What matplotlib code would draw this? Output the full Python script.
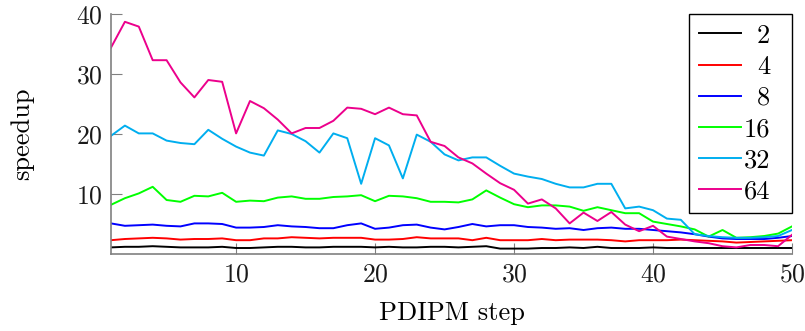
import matplotlib
matplotlib.use("Agg")
import matplotlib.pyplot as plt
import numpy as np

plt.rcParams['font.family'] = 'serif'
plt.rcParams['font.serif'] = ['cmr10', 'DejaVu Serif']
plt.rcParams['mathtext.fontset'] = 'cm'
plt.rcParams['axes.formatter.use_mathtext'] = True

steps = list(range(1, 51))
labels = ["2", "4", "8", "16", "32", "64"]
colors = ["#000000", "#ff0000", "#0000ff", "#00ff00", "#00aeef", "#ec008c"]

s2 = [1.1, 1.2, 1.2, 1.3, 1.2, 1.1, 1.1, 1.1, 1.2, 1.0,
      1.0, 1.1, 1.2, 1.2, 1.1, 1.1, 1.2, 1.2, 1.2, 1.1,
      1.2, 1.1, 1.1, 1.2, 1.2, 1.1, 1.2, 1.3, 0.9, 0.9,
      0.9, 1.0, 1.0, 1.1, 1.0, 1.2, 1.0, 1.0, 1.0, 1.1,
      1.0, 1.0, 1.0, 1.0, 1.0, 1.0, 1.0, 1.0, 1.0, 1.0]
s4 = [2.3, 2.5, 2.6, 2.7, 2.6, 2.4, 2.5, 2.5, 2.6, 2.3,
      2.3, 2.6, 2.6, 2.8, 2.7, 2.6, 2.7, 2.7, 2.7, 2.4,
      2.4, 2.5, 2.8, 2.6, 2.6, 2.6, 2.3, 2.7, 2.3, 2.3,
      2.3, 2.5, 2.3, 2.4, 2.4, 2.4, 2.3, 2.1, 2.3, 2.3,
      2.3, 2.4, 2.3, 2.2, 2.1, 1.9, 2.0, 2.1, 2.2, 2.3]
s8 = [5.1, 4.7, 4.8, 4.9, 4.7, 4.6, 5.1, 5.1, 5.0, 4.4,
      4.4, 4.5, 4.8, 4.6, 4.5, 4.3, 4.3, 4.8, 5.1, 4.2,
      4.4, 4.8, 4.9, 4.4, 4.1, 4.5, 5.0, 4.6, 4.8, 4.8,
      4.5, 4.4, 4.2, 4.3, 4.0, 4.3, 4.4, 4.2, 4.2, 4.0,
      3.8, 3.6, 3.3, 2.9, 2.6, 2.5, 2.5, 2.5, 2.7, 3.0]
s16 = [8.2, 9.3, 10.1, 11.2, 9.0, 8.7, 9.7, 9.6, 10.2, 8.7,
       8.9, 8.8, 9.4, 9.6, 9.2, 9.2, 9.5, 9.6, 9.8, 8.8,
       9.7, 9.6, 9.3, 8.7, 8.7, 8.6, 9.1, 10.6, 9.4, 8.3,
       7.8, 8.1, 8.1, 7.9, 7.2, 7.8, 7.3, 6.8, 6.8, 5.4,
       5.0, 4.6, 4.1, 2.9, 4.0, 2.7, 2.8, 3.0, 3.4, 4.6]
s32 = [19.7, 21.4, 20.1, 20.1, 18.9, 18.5, 18.3, 20.7, 19.2, 17.9,
       16.9, 16.4, 20.6, 20.0, 18.8, 16.9, 20.1, 19.3, 11.7, 19.3,
       18.1, 12.6, 19.9, 18.7, 16.6, 15.6, 16.1, 16.1, 14.7, 13.4,
       12.9, 12.5, 11.7, 11.1, 11.1, 11.7, 11.7, 7.6, 7.9, 7.3,
       5.9, 5.7, 3.3, 3.0, 2.8, 2.7, 2.7, 2.8, 3.0, 4.0]
s64 = [34.4, 38.7, 37.9, 32.3, 32.3, 28.6, 26.1, 29.0, 28.7, 20.1,
       25.5, 24.3, 22.4, 20.1, 21.0, 21.0, 22.2, 24.4, 24.2, 23.3,
       24.4, 23.3, 23.1, 18.7, 18.0, 16.1, 15.1, 13.4, 11.8, 10.7,
       8.4, 9.1, 7.6, 5.1, 6.9, 5.5, 7.0, 4.9, 3.8, 4.7,
       2.9, 2.5, 2.1, 1.8, 1.3, 1.1, 1.5, 1.5, 1.3, 3.2]
series = [s2, s4, s8, s16, s32, s64]

fig = plt.figure(figsize=(8.05, 3.31), dpi=100)
ax = fig.add_axes([111/805, 1 - 254/331, (792-111)/805, (254-14)/331])

for vals, lab, c in zip(series, labels, colors):
    ax.plot(steps, vals, color=c, lw=1.4, label=lab)

ax.set_xlim(1, 50)
ax.set_ylim(0, 40)
ax.set_xticks([10, 20, 30, 40, 50])
ax.set_yticks([10, 20, 30, 40])
for s in ['top', 'right']:
    ax.spines[s].set_visible(False)
for s in ['left', 'bottom']:
    ax.spines[s].set_color('#808080')
    ax.spines[s].set_linewidth(1.2)
ax.tick_params(direction='in', length=8, width=0.8, color='#808080',
               labelsize=18.5, labelcolor='#1a1a1a', pad=6)
ax.set_xlabel('PDIPM step', fontsize=19, labelpad=11)
ax.set_ylabel('speedup', fontsize=19, labelpad=30)

fs = 19
fpx = fs * 100 / 72.0
leg = ax.legend(loc='upper right', bbox_to_anchor=(1.0, 1.0), fontsize=fs,
                frameon=True, fancybox=False, edgecolor='black',
                borderaxespad=0.0, handlelength=42 / fpx, labelspacing=0.28,
                borderpad=10 / fpx, handletextpad=15 / fpx)
leg.get_frame().set_linewidth(1.0)
leg.get_frame().set_alpha(1.0)

fig.canvas.draw()
r = fig.canvas.get_renderer()
widths = [t.get_window_extent(r).width for t in leg.get_texts()]
mw = max(widths)
for t, w in zip(leg.get_texts(), widths):
    t.set_position((mw - w - 12, 0))

fig.savefig('out.png', dpi=100)
